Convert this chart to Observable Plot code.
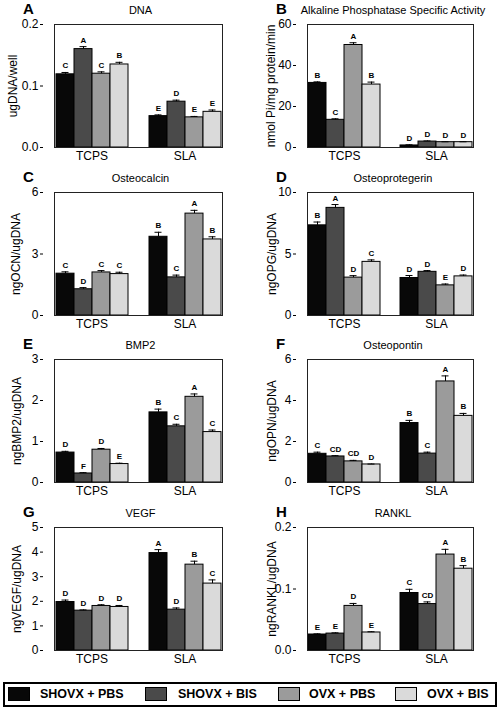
<!DOCTYPE html>
<html><head><meta charset="utf-8">
<script src="https://cdn.jsdelivr.net/npm/d3@7"></script>
<script src="https://cdn.jsdelivr.net/npm/@observablehq/plot@0.6"></script>
<style>
body{margin:0;background:#fff;font-family:"Liberation Sans",Arial,sans-serif;color:#000;}
#root{position:relative;width:502px;height:715px;overflow:hidden;}
.svgwrap{position:absolute;}
.letter{position:absolute;font-weight:bold;font-size:15px;line-height:15px;}
.title{position:absolute;font-size:11px;line-height:12px;text-align:center;white-space:nowrap;}
.legend{position:absolute;left:3px;top:682px;width:494px;height:25px;border:2px solid #000;box-sizing:border-box;}
.sw{position:absolute;top:3px;width:22px;height:14px;border:1px solid #000;box-sizing:border-box;}
.lt{position:absolute;top:2px;font-weight:bold;font-size:12.5px;line-height:16px;white-space:nowrap;}
</style></head>
<body><div id="root"></div>
<script>
const groups = ["TCPS", "SLA"];
const conditions = ["SHOVX + PBS", "SHOVX + BIS", "OVX + PBS", "OVX + BIS"];
const colors = ["#080808", "#4a4a4a", "#9b9b9b", "#dadada"];

const panelLetters = ["A", "B", "C", "D", "E", "F", "G", "H"];
const panelTitles = ["DNA", "Alkaline Phosphatase Specific Activity", "Osteocalcin", "Osteoprotegerin", "BMP2", "Osteopontin", "VEGF", "RANKL"];
const yLabels = ["ugDNA/well", "nmol Pi/mg protein/min", "ngOCN/ugDNA", "ngOPG/ugDNA", "ngBMP2/ugDNA", "ngOPN/ugDNA", "ngVEGF/ugDNA", "ngRANKL/ugDNA"];
const yTicks = [[0, 0.1, 0.2], [0, 20, 40, 60], [0, 3, 6], [0, 5, 10], [0, 1, 2, 3], [0, 2, 4, 6], [0, 1, 2, 3, 4, 5], [0, 0.1, 0.2]];
const yTickFormats = [".1f", "d", "d", "d", "d", "d", "d", ".1f"];

// values: TCPS (4 conditions) then SLA (4 conditions)
const meanA = [0.119, 0.160, 0.120, 0.135, 0.051, 0.0745, 0.049, 0.058];
const errA  = [0.003, 0.004, 0.003, 0.0035, 0.002, 0.0025, 0.0015, 0.003];
const sigA  = ["C", "A", "C", "B", "E", "D", "E", "E"];
const meanB = [31.5, 13.5, 50.0, 30.7, 1.0, 2.9, 2.6, 2.6];
const errB  = [0.5, 0.5, 1.1, 1.2, 0.3, 0.3, 0.2, 0.2];
const sigB  = ["B", "C", "A", "B", "D", "D", "D", "D"];
const meanC = [2.04, 1.28, 2.10, 2.02, 3.84, 1.86, 4.97, 3.71];
const errC  = [0.09, 0.08, 0.09, 0.09, 0.22, 0.11, 0.16, 0.13];
const sigC  = ["C", "D", "C", "C", "B", "C", "A", "B"];
const meanD = [7.33, 8.75, 3.08, 4.36, 3.05, 3.55, 2.45, 3.18];
const errD  = [0.27, 0.27, 0.16, 0.16, 0.20, 0.10, 0.11, 0.11];
const sigD  = ["B", "A", "D", "C", "D", "D", "E", "D"];
const meanE = [0.73, 0.22, 0.80, 0.45, 1.71, 1.37, 2.09, 1.23];
const errE  = [0.03, 0.02, 0.03, 0.02, 0.08, 0.05, 0.07, 0.05];
const sigE  = ["D", "F", "D", "E", "B", "C", "A", "C"];
const meanF = [1.40, 1.27, 1.03, 0.88, 2.90, 1.41, 4.93, 3.25];
const errF  = [0.08, 0.04, 0.05, 0.02, 0.13, 0.07, 0.27, 0.12];
const sigF  = ["C", "CD", "CD", "D", "B", "C", "A", "B"];
const meanG = [1.97, 1.62, 1.81, 1.77, 3.96, 1.66, 3.49, 2.72];
const errG  = [0.08, 0.03, 0.05, 0.06, 0.14, 0.07, 0.14, 0.15];
const sigG  = ["D", "D", "D", "D", "A", "D", "B", "C"];
const meanH = [0.026, 0.0275, 0.0725, 0.0293, 0.0935, 0.0755, 0.156, 0.133];
const errH  = [0.001, 0.0012, 0.004, 0.0012, 0.006, 0.0035, 0.0085, 0.005];
const sigH  = ["E", "E", "D", "E", "C", "CD", "A", "B"];

const means = [meanA, meanB, meanC, meanD, meanE, meanF, meanG, meanH];
const errs = [errA, errB, errC, errD, errE, errF, errG, errH];
const sigs = [sigA, sigB, sigC, sigD, sigE, sigF, sigG, sigH];

// layout
const colX = [0, 251];
const mLeft = [43, 45];
const mRight = [13, 12];
const frameTop = [24, 192, 359, 527];
const plotH = 123;
const mTop = 8, mBottom = 22;
const yLabelOffset = [30, 25, 27, 24, 26, 24, 26, 24];

const root = document.getElementById("root");

function rowsFor(i) {
  const rows = [];
  groups.forEach((g, gi) => conditions.forEach((c, ci) => {
    const k = gi * 4 + ci;
    rows.push({group: g, cond: c, v: means[i][k], top: means[i][k] + errs[i][k], sig: sigs[i][k]});
  }));
  return rows;
}

function build(i, axisShift) {
  const col = i % 2;
  const data = rowsFor(i);
  const ticks = yTicks[i];
  return Plot.plot({
    width: 251,
    height: mTop + plotH + mBottom,
    marginLeft: mLeft[col],
    marginRight: mRight[col],
    marginTop: mTop,
    marginBottom: mBottom,
    style: {fontFamily: "'Liberation Sans', Arial, sans-serif", fontSize: "12px", background: "transparent", color: "#000"},
    fx: {domain: groups, paddingInner: 0.194, paddingOuter: 0.145, align: 0.39, label: null, axis: "bottom", tickSize: 0, tickPadding: 4},
    x: {domain: conditions, padding: 0, axis: null},
    y: {domain: [ticks[0], ticks[ticks.length - 1]]},
    color: {domain: conditions, range: colors},
    marks: [
      Plot.axisY({anchor: "left", dx: -axisShift, ticks: ticks, tickFormat: d3.format(yTickFormats[i]), tickSize: 3, tickPadding: 2, label: null}),
      Plot.text([yLabels[i]], {facet: "super", frameAnchor: "left", textAnchor: "middle", lineAnchor: "middle", text: d => d, rotate: -90, dx: -(yLabelOffset[i] + axisShift), fontSize: 12}),
      Plot.barY(data, {fx: "group", x: "cond", y: "v", fill: "cond", stroke: "#000", strokeWidth: 1}),
      Plot.ruleX(data, {fx: "group", x: "cond", y1: "v", y2: "top", stroke: "#000", strokeWidth: 1}),
      Plot.tickY(data, {fx: "group", x: "cond", y: "top", stroke: "#000", strokeWidth: 1, insetLeft: 5.5, insetRight: 5.5}),
      Plot.text(data, {fx: "group", x: "cond", y: "top", text: "sig", dy: -4, lineAnchor: "bottom", fontWeight: "bold", fontSize: 8}),
      Plot.frame({facet: "super", stroke: "#222", strokeWidth: 1})
    ]
  });
}

for (let i = 0; i < 8; i++) {
  const col = i % 2, row = Math.floor(i / 2);
  // first pass: find where the leftmost facet starts, so the y axis can sit on the frame edge
  const probe = build(i, 0);
  const shift = probe.scale("fx").apply(groups[0]) - mLeft[col];
  const chart = build(i, shift);
  const wrap = document.createElement("div");
  wrap.className = "svgwrap";
  wrap.style.left = colX[col] + "px";
  wrap.style.top = (frameTop[row] - mTop) + "px";
  wrap.appendChild(chart);
  root.appendChild(wrap);

  const lt = document.createElement("div");
  lt.className = "letter";
  lt.textContent = panelLetters[i];
  lt.style.left = (colX[col] + (col ? 25 : 23)) + "px";
  lt.style.top = (frameTop[row] - 23) + "px";
  root.appendChild(lt);

  const tt = document.createElement("div");
  tt.className = "title";
  tt.textContent = panelTitles[i];
  tt.style.left = (colX[col] + mLeft[col]) + "px";
  tt.style.width = (251 - mLeft[col] - mRight[col]) + "px";
  tt.style.top = (frameTop[row] - 20) + "px";
  root.appendChild(tt);
}

// legend
const legendSwatchX = [3, 140, 273, 390];
const legendTextX = [35, 173, 304, 422];
const legend = document.createElement("div");
legend.className = "legend";
conditions.forEach((c, k) => {
  const sw = document.createElement("div");
  sw.className = "sw";
  sw.style.left = legendSwatchX[k] + "px";
  sw.style.background = colors[k];
  legend.appendChild(sw);
  const t = document.createElement("div");
  t.className = "lt";
  t.style.left = legendTextX[k] + "px";
  t.textContent = c;
  legend.appendChild(t);
});
root.appendChild(legend);
</script>
</body></html>
